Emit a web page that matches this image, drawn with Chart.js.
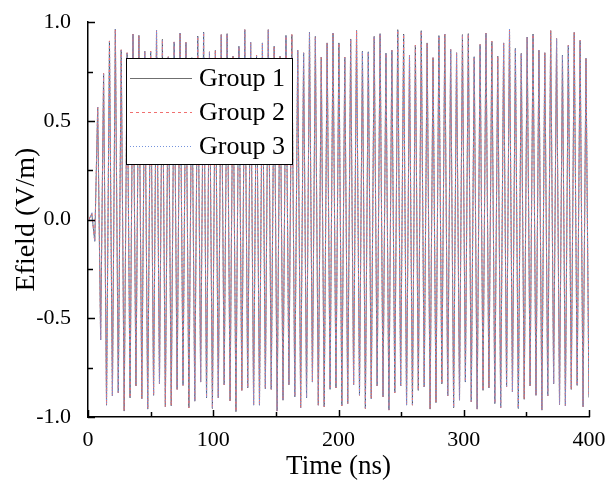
<!doctype html>
<html>

<head>
	<title>Efield</title>
	<script src="https://cdn.jsdelivr.net/npm/chart.js@4"></script>
	<style>
		body { margin: 0; background: #fff; }
		.canvas-holder { width: 608px; height: 486px; }
	</style>
</head>

<body>
	<div class="canvas-holder">
		<canvas id="chart-area" width="608" height="486"></canvas>
	</div>

	<script>
		// sampling of the extrema (ns): first sample and half period
		var t0 = 0.7;
		var halfStep = 2.3485;

		// start of the signal, before the first peak
		var leadIn = [0, 0.03, -0.11];

		// peak values, read left to right
		var peaks = [
			0.57, 0.74, 0.905, 0.965, 0.86, 0.845, 0.94, 0.933, 0.853, 0.853, 0.96, 0.913, 0.825, 0.9,
			0.945, 0.898, 0.82, 0.93, 0.95, 0.85, 0.857, 0.937, 0.942, 0.828, 0.878, 0.962, 0.898, 0.833,
			0.895, 0.962, 0.878, 0.828, 0.933, 0.937, 0.858, 0.845, 0.95, 0.928, 0.823, 0.895, 0.945, 0.895,
			0.823, 0.915, 0.958, 0.853, 0.85, 0.928, 0.942, 0.843, 0.858, 0.962, 0.94, 0.833, 0.883, 0.957,
			0.895, 0.82, 0.932, 0.94, 0.862, 0.845, 0.937, 0.942, 0.825, 0.887, 0.945, 0.903, 0.828, 0.895,
			0.965, 0.867, 0.842, 0.925, 0.94, 0.858, 0.845, 0.957, 0.917, 0.833, 0.883, 0.948, 0.908, 0.817
		];

		// trough values, one after each peak
		var troughs = [
			-0.61, -0.94, -0.893, -0.877, -0.97, -0.903, -0.843, -0.907, -0.96, -0.89, -0.832, -0.948, -0.943, -0.86,
			-0.84, -0.953, -0.92, -0.823, -0.903, -0.957, -0.903, -0.837, -0.918, -0.973, -0.865, -0.853, -0.94,
			-0.94, -0.857, -0.86, -0.97, -0.915, -0.837, -0.898, -0.953, -0.903, -0.823, -0.94, -0.948, -0.86,
			-0.853, -0.943, -0.932, -0.837, -0.89, -0.957, -0.907, -0.843, -0.898, -0.965, -0.877, -0.843, -0.94,
			-0.94, -0.865, -0.848, -0.96, -0.927, -0.832, -0.893, -0.953, -0.915, -0.823, -0.923, -0.96, -0.865,
			-0.853, -0.932, -0.953, -0.848, -0.873, -0.957, -0.91, -0.843, -0.89, -0.965, -0.893, -0.832, -0.937,
			-0.943, -0.86, -0.84, -0.948, -0.9
		];

		var groupNames = ['Group 1', 'Group 2', 'Group 3'];
		var xTickLabels = ['0', '100', '200', '300', '400'];
		var yTickLabels = ['-1.0', '-0.5', '0.0', '0.5', '1.0'];

		// the three groups overlap completely in the picture
		function buildSeries() {
			var vals = leadIn.slice();
			for (var i = 0; i < peaks.length; i++) {
				vals.push(peaks[i]);
				if (i < troughs.length) vals.push(troughs[i]);
			}
			return vals.map(function (v, i) { return { x: t0 + i * halfStep, y: v }; });
		}

		var serif = '"Liberation Serif", "Times New Roman", serif';

		// ticks pointing into the plot, major and minor
		var innerTicks = {
			id: 'innerTicks',
			afterDraw: function (chart) {
				var c = chart.ctx, a = chart.chartArea;
				var xs = chart.scales.x, ys = chart.scales.y;
				c.save();
				c.strokeStyle = '#000';
				c.lineWidth = 1.5;
				for (var v = 0; v <= 400; v += 50) {
					var px = Math.round(xs.getPixelForValue(v)) + 0.5;
					var len = v % 100 === 0 ? 7 : 5;
					c.beginPath(); c.moveTo(px, a.bottom); c.lineTo(px, a.bottom - len); c.stroke();
				}
				for (var k = -4; k <= 4; k++) {
					var py = Math.round(ys.getPixelForValue(k * 0.25)) + 0.5;
					var l2 = k % 2 === 0 ? 7 : 5;
					c.beginPath(); c.moveTo(a.left, py); c.lineTo(a.left + l2, py); c.stroke();
				}
				c.restore();
			}
		};

		// framed legend in the upper left of the plot
		var boxLegend = {
			id: 'boxLegend',
			afterDraw: function (chart) {
				var c = chart.ctx;
				var x0 = 126, y0 = 58, w = 166, h = 106;
				c.save();
				c.fillStyle = '#fff';
				c.fillRect(x0, y0, w, h);
				c.strokeStyle = '#000';
				c.lineWidth = 1;
				c.strokeRect(x0 + 0.5, y0 + 0.5, w, h);
				c.font = '26px ' + serif;
				c.textBaseline = 'middle';
				chart.data.datasets.forEach(function (ds, i) {
					var y = Math.round(y0 + 20 + i * 34) + 0.5;
					c.strokeStyle = ds.borderColor;
					c.lineWidth = ds.borderWidth;
					c.setLineDash(ds.borderDash || []);
					c.beginPath(); c.moveTo(x0 + 4, y); c.lineTo(x0 + 66, y); c.stroke();
					c.setLineDash([]);
					c.fillStyle = '#000';
					c.fillText(ds.label, x0 + 73, y + 1);
				});
				c.restore();
			}
		};

		var ctx = document.getElementById('chart-area').getContext('2d');

		var chart = new Chart(ctx, {
			type: 'line',
			data: {
				datasets: [
					{ label: groupNames[0], data: buildSeries(), borderColor: '#4a4a4a', borderWidth: 0.8, order: 3 },
					{ label: groupNames[1], data: buildSeries(), borderColor: '#f07070', borderWidth: 1, borderDash: [3, 3], order: 2 },
					{ label: groupNames[2], data: buildSeries(), borderColor: '#7593dc', borderWidth: 1.1, borderDash: [1, 2], order: 1 },
				],
			},
			options: {
				responsive: false,
				animation: false,
				parsing: false,
				normalized: true,
				elements: { point: { radius: 0 }, line: { tension: 0 } },
				layout: { padding: { top: 17, right: 19, left: 0, bottom: 0 } },
				plugins: { legend: { display: false }, tooltip: { enabled: false } },
				scales: {
					x: {
						type: 'linear',
						min: 0,
						max: 400,
						afterFit: function (s) { s.height = 69; },
						grid: { display: false },
						border: { display: true, color: '#000', width: 1.5 },
						ticks: {
							stepSize: 100,
							padding: 2,
							color: '#000',
							font: { family: serif, size: 22 },
							callback: function (v) { return xTickLabels[v / 100]; },
						},
						title: {
							display: true,
							text: 'Time (ns)',
							color: '#000',
							font: { family: serif, size: 27 },
							padding: { top: 0, bottom: 3 },
						},
					},
					y: {
						min: -1,
						max: 1,
						afterFit: function (s) { s.width = 88; },
						grid: { display: false },
						border: { display: true, color: '#000', width: 1.5 },
						ticks: {
							stepSize: 0.5,
							padding: 9,
							color: '#000',
							font: { family: serif, size: 22 },
							callback: function (v) { return yTickLabels[Math.round((v + 1) * 2)]; },
						},
						title: {
							display: true,
							text: 'Efield (V/m)',
							color: '#000',
							font: { family: serif, size: 28 },
							padding: { top: 10, bottom: 0 },
						},
					},
				},
			},
			plugins: [innerTicks, boxLegend],
		});
	</script>
</body>

</html>
